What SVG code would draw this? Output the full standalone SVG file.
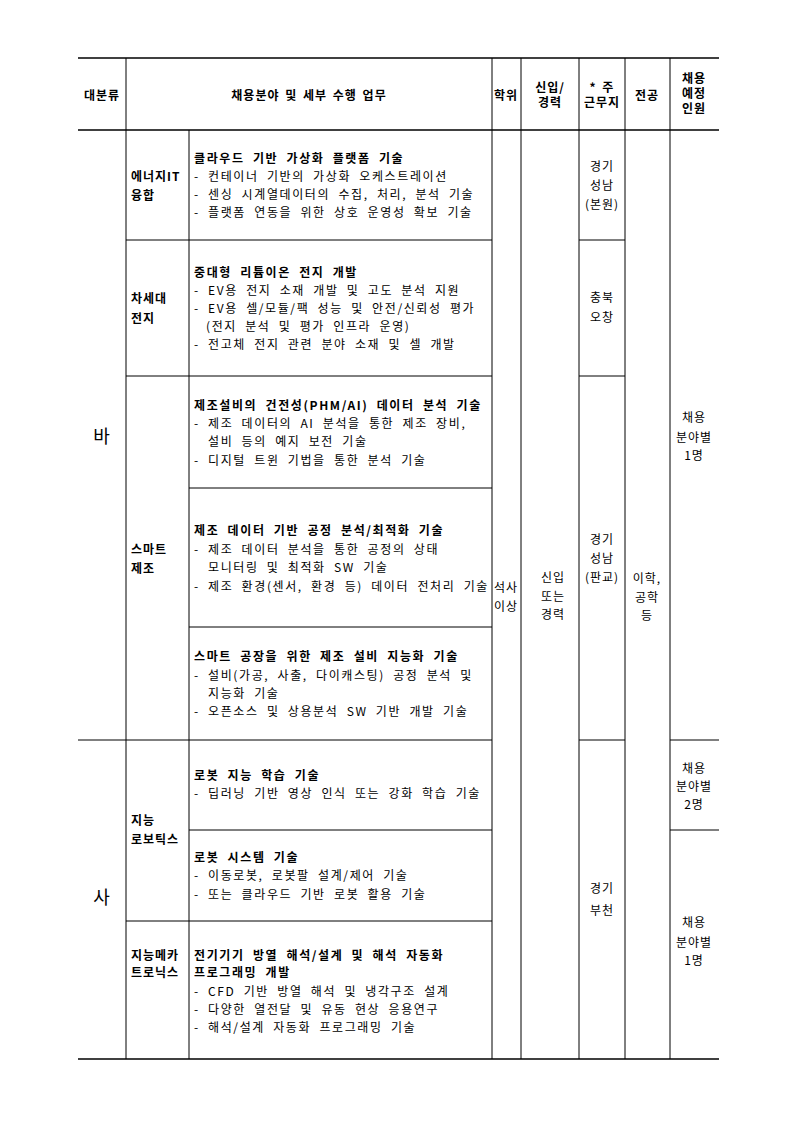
<svg xmlns="http://www.w3.org/2000/svg" width="793" height="1121" viewBox="0 0 793 1121">
<style>
text{font-family:"Noto Sans CJK KR","Noto Sans",sans-serif;font-size:12px;fill:#000;letter-spacing:1px;word-spacing:2px}
#tasks text{letter-spacing:1.6px;word-spacing:4px}
.b{font-weight:bold}
.c{text-anchor:middle}
.big{font-size:18px}
line{stroke:#000;stroke-width:1}
.t{stroke-width:1.5}
</style>
<rect width="793" height="1121" fill="#fff"/>
<g id="grid">
<line class="t" x1="78" y1="58" x2="719" y2="58"/>
<line class="t" x1="78" y1="130" x2="719" y2="130"/>
<line class="t" x1="78" y1="1059" x2="719" y2="1059"/>
<line x1="126" y1="58" x2="126" y2="1059"/>
<line x1="189" y1="130" x2="189" y2="1059"/>
<line x1="492" y1="58" x2="492" y2="1059"/>
<line x1="521" y1="58" x2="521" y2="1059"/>
<line x1="579" y1="58" x2="579" y2="1059"/>
<line x1="625" y1="58" x2="625" y2="1059"/>
<line x1="670" y1="58" x2="670" y2="1059"/>
<line x1="126" y1="240" x2="492" y2="240"/>
<line x1="126" y1="376" x2="492" y2="376"/>
<line x1="189" y1="488" x2="492" y2="488"/>
<line x1="189" y1="627" x2="492" y2="627"/>
<line x1="78" y1="740" x2="492" y2="740"/>
<line x1="189" y1="830" x2="492" y2="830"/>
<line x1="126" y1="921" x2="492" y2="921"/>
<line x1="579" y1="240" x2="625" y2="240"/>
<line x1="579" y1="376" x2="625" y2="376"/>
<line x1="579" y1="740" x2="625" y2="740"/>
<line x1="670" y1="740" x2="719" y2="740"/>
<line x1="670" y1="830" x2="719" y2="830"/>
</g>
<g id="header" class="b">
<text class="c b" x="102" y="100">대분류</text>
<text class="c b" x="309" y="100">채용분야 및 세부 수행 업무</text>
<text class="c b" x="506" y="100">학위</text>
<text class="c b" x="550" y="92">신입/</text><text class="c b" x="550" y="107">경력</text>
<text class="c b" x="602" y="92">* 주</text><text class="c b" x="602" y="107">근무지</text>
<text class="c b" x="647" y="100">전공</text>
<text class="c b" x="694" y="83">채용</text><text class="c b" x="694" y="98">예정</text><text class="c b" x="694" y="113">인원</text>
</g>
<g id="cat">
<text class="c big" x="102" y="443">바</text>
<text class="c big" x="102" y="904">사</text>
</g>
<g id="sub" class="b">
<text class="b" x="131" y="181">에너지IT</text><text class="b" x="131" y="200">융합</text>
<text class="b" x="131" y="303">차세대</text><text class="b" x="131" y="323">전지</text>
<text class="b" x="131" y="554">스마트</text><text class="b" x="131" y="573">제조</text>
<text class="b" x="131" y="825">지능</text><text class="b" x="131" y="844">로보틱스</text>
<text class="b" x="131" y="960">지능메카</text><text class="b" x="131" y="977">트로닉스</text>
</g>
<g id="tasks">
<text class="b" x="194" y="163">클라우드 기반 가상화 플랫폼 기술</text>
<text x="194" y="181">- 컨테이너 기반의 가상화 오케스트레이션</text>
<text x="194" y="199">- 센싱 시계열데이터의 수집, 처리, 분석 기술</text>
<text x="194" y="217">- 플랫폼 연동을 위한 상호 운영성 확보 기술</text>
<text class="b" x="194" y="277">중대형 리튬이온 전지 개발</text>
<text x="194" y="295">- EV용 전지 소재 개발 및 고도 분석 지원</text>
<text x="194" y="313">- EV용 셀/모듈/팩 성능 및 안전/신뢰성 평가</text>
<text x="206" y="331">(전지 분석 및 평가 인프라 운영)</text>
<text x="194" y="349">- 전고체 전지 관련 분야 소재 및 셀 개발</text>
<text class="b" x="194" y="410">제조설비의 건전성(PHM/AI) 데이터 분석 기술</text>
<text x="194" y="428">- 제조 데이터의 AI 분석을 통한 제조 장비,</text>
<text x="208" y="446">설비 등의 예지 보전 기술</text>
<text x="194" y="465">- 디지털 트윈 기법을 통한 분석 기술</text>
<text class="b" x="194" y="535">제조 데이터 기반 공정 분석/최적화 기술</text>
<text x="194" y="554">- 제조 데이터 분석을 통한 공정의 상태</text>
<text x="208" y="572">모니터링 및 최적화 SW 기술</text>
<text x="194" y="591">- 제조 환경(센서, 환경 등) 데이터 전처리 기술</text>
<text class="b" x="194" y="661">스마트 공장을 위한 제조 설비 지능화 기술</text>
<text x="194" y="680">- 설비(가공, 사출, 다이캐스팅) 공정 분석 및</text>
<text x="208" y="698">지능화 기술</text>
<text x="194" y="716">- 오픈소스 및 상용분석 SW 기반 개발 기술</text>
<text class="b" x="194" y="780">로봇 지능 학습 기술</text>
<text x="194" y="798">- 딥러닝 기반 영상 인식 또는 강화 학습 기술</text>
<text class="b" x="194" y="862">로봇 시스템 기술</text>
<text x="194" y="880">- 이동로봇, 로봇팔 설계/제어 기술</text>
<text x="194" y="899">- 또는 클라우드 기반 로봇 활용 기술</text>
<text class="b" x="194" y="960">전기기기 방열 해석/설계 및 해석 자동화</text>
<text class="b" x="194" y="977">프로그래밍 개발</text>
<text x="194" y="996">- CFD 기반 방열 해석 및 냉각구조 설계</text>
<text x="194" y="1014">- 다양한 열전달 및 유동 현상 응용연구</text>
<text x="194" y="1032">- 해석/설계 자동화 프로그래밍 기술</text>
</g>
<g id="degree">
<text class="c" x="506" y="592">석사</text><text class="c" x="506" y="611">이상</text>
<text class="c" x="553" y="582">신입</text><text class="c" x="553" y="601">또는</text><text class="c" x="553" y="619">경력</text>
</g>
<g id="loc">
<text class="c" x="602" y="171">경기</text><text class="c" x="602" y="190">성남</text><text class="c" x="602" y="209">(본원)</text>
<text class="c" x="602" y="302">충북</text><text class="c" x="602" y="322">오창</text>
<text class="c" x="602" y="544">경기</text><text class="c" x="602" y="563">성남</text><text class="c" x="602" y="582">(판교)</text>
<text class="c" x="602" y="893">경기</text><text class="c" x="602" y="915">부천</text>
</g>
<g id="major">
<text class="c" x="647" y="583">이학,</text><text class="c" x="647" y="602">공학</text><text class="c" x="647" y="620">등</text>
</g>
<g id="count">
<text class="c" x="694" y="422">채용</text><text class="c" x="694" y="442">분야별</text><text class="c" x="694" y="460">1명</text>
<text class="c" x="694" y="773">채용</text><text class="c" x="694" y="791">분야별</text><text class="c" x="694" y="809">2명</text>
<text class="c" x="694" y="927">채용</text><text class="c" x="694" y="947">분야별</text><text class="c" x="694" y="965">1명</text>
</g>
</svg>
